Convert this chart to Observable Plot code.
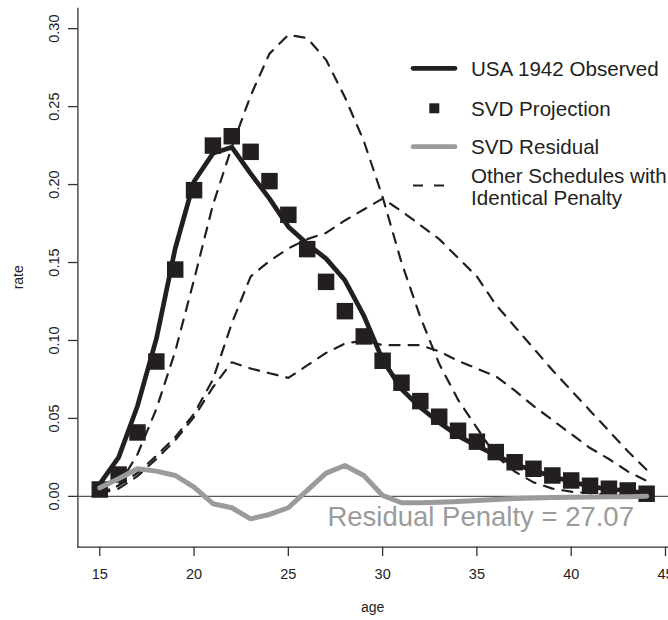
<!DOCTYPE html>
<html><head><meta charset="utf-8">
<script src="https://cdn.jsdelivr.net/npm/d3@7"></script>
<script src="https://cdn.jsdelivr.net/npm/@observablehq/plot@0.6"></script>
<style>
body{margin:0;background:#fff;}
#chart svg{display:block;}
</style>
</head><body><div id="chart"></div>
<script>
// ---- data ----
const ages = [15,16,17,18,19,20,21,22,23,24,25,26,27,28,29,30,31,32,33,34,35,36,37,38,39,40,41,42,43,44];
const observed = [0.008,0.025,0.058,0.101,0.159,0.202,0.220,0.224,0.207,0.191,0.173,0.162,0.1525,0.1386,0.116,0.0876,0.0688,0.057,0.0474,0.0388,0.0324,0.0264,0.0205,0.0167,0.0126,0.0096,0.0064,0.0046,0.0036,0.0018];
const projection = [0.0044,0.014,0.041,0.0865,0.1455,0.1964,0.225,0.231,0.221,0.2022,0.1806,0.1586,0.1376,0.1188,0.1026,0.087,0.0729,0.0611,0.0511,0.0421,0.0351,0.0284,0.0219,0.0177,0.0134,0.0102,0.0068,0.0049,0.0038,0.0017];
const residual = [0.0055,0.0113,0.0177,0.0162,0.0134,0.0059,-0.0047,-0.0073,-0.0144,-0.0116,-0.0073,0.0038,0.0149,0.0198,0.0134,0.0006,-0.0041,-0.0041,-0.0037,-0.0033,-0.0027,-0.002,-0.0014,-0.001,-0.0008,-0.0006,-0.0004,-0.0003,-0.0002,0.0001];
const otherA = [0.001,0.007,0.027,0.056,0.093,0.139,0.187,0.224,0.257,0.284,0.296,0.294,0.280,0.256,0.228,0.192,0.150,0.115,0.085,0.062,0.044,0.026,0.016,0.009,0.005,0.003,0.002,0.001,0.001,0.001];
const otherB = [0.002,0.007,0.015,0.026,0.038,0.053,0.075,0.111,0.141,0.151,0.159,0.165,0.169,0.177,0.184,0.191,0.183,0.174,0.165,0.153,0.141,0.123,0.109,0.095,0.081,0.068,0.055,0.042,0.029,0.017];
const otherC = [0.002,0.005,0.013,0.024,0.036,0.051,0.070,0.086,0.082,0.079,0.076,0.084,0.092,0.098,0.100,0.097,0.097,0.097,0.093,0.087,0.082,0.077,0.068,0.058,0.049,0.040,0.031,0.024,0.016,0.010];
const xTicks = [15,20,25,30,35,40,45];
const yTicks = [0.00,0.05,0.10,0.15,0.20,0.25,0.30];
const xDomain = [13.84, 45.16];
const yDomain = [-0.0326, 0.313];
const legendLabels = ["USA 1942 Observed","SVD Projection","SVD Residual","Other Schedules with","Identical Penalty"];
const penaltyLabel = "Residual Penalty = 27.07";
const penaltyPos = {age: 35.2, rate: -0.0132};
const xLabel = "age", yLabel = "rate";

// ---- tables ----
const rows = ages.map((a,i)=>({age:a, observed:observed[i], projection:projection[i], residual:residual[i]}));
const others = [];
[otherA, otherB, otherC].forEach((s,k)=>s.forEach((v,i)=>others.push({age:ages[i], rate:v, schedule:k})));

const FONT = "'Liberation Sans', Arial, Helvetica, sans-serif";
const INK = "#231f20";
const GRAY = "#9b9b9b";

const svg = Plot.plot({
  width: 668, height: 620,
  marginLeft: 77.4, marginRight: 0, marginTop: 7.9, marginBottom: 73.3,
  style: {fontFamily: FONT, background: "#fff", color: "#222"},
  x: {domain: xDomain},
  y: {domain: yDomain},
  marks: [
    Plot.frame({anchor: "left", stroke: "#333", strokeWidth: 1.3}),
    Plot.frame({anchor: "bottom", stroke: "#333", strokeWidth: 1.3}),
    Plot.ruleY([0], {stroke: "#555", strokeWidth: 1.1}),
    Plot.axisX(xTicks, {tickSize: 9.3, tickPadding: 12.5, fontSize: 14.5, label: null, stroke: "#333", strokeWidth: 1.3}),
    Plot.axisY(yTicks, {tickSize: 9.4, tickPadding: 9.7, tickRotate: -90, fontSize: 14.5, label: null, tickFormat: d3.format(".2f"), stroke: "#333", strokeWidth: 1.3}),
    Plot.line(others, {x: "age", y: "rate", z: "schedule", stroke: INK, strokeWidth: 2.2, strokeDasharray: "10,9"}),
    Plot.line(rows, {x: "age", y: "observed", stroke: INK, strokeWidth: 4.7, strokeLinejoin: "round", strokeLinecap: "round"}),
    Plot.dot(rows, {x: "age", y: "projection", symbol: "square", r: 9.3, fill: INK, stroke: null}),
    Plot.line(rows, {x: "age", y: "residual", stroke: GRAY, strokeWidth: 5, strokeLinejoin: "round", strokeLinecap: "round"}),
    Plot.text([penaltyPos], {x: "age", y: "rate", text: () => penaltyLabel, fontSize: 27.5, fill: GRAY, textAnchor: "middle", lineAnchor: "middle"})
  ]
});

const s = d3.select(svg);
// axis titles
s.append("text").attr("x", 372.7).attr("y", 612).attr("text-anchor","middle")
  .attr("font-size", 14).attr("font-family", FONT).attr("fill", "#222").text(xLabel);
s.append("text").attr("transform","translate(23.3,277.3) rotate(-90)").attr("text-anchor","middle")
  .attr("font-size", 14).attr("font-family", FONT).attr("fill", "#222").text(yLabel);

// legend
const lg = s.append("g").attr("font-family", FONT).attr("font-size", 20.6).attr("fill", INK).attr("text-anchor", "start");
lg.append("line").attr("x1",413).attr("x2",455).attr("y1",68.3).attr("y2",68.3).attr("stroke",INK).attr("stroke-width",4.7).attr("stroke-linecap","round");
lg.append("rect").attr("x",429.3).attr("y",103.3).attr("width",10).attr("height",10).attr("fill",INK);
lg.append("line").attr("x1",413).attr("x2",455).attr("y1",146.7).attr("y2",146.7).attr("stroke",GRAY).attr("stroke-width",4.7).attr("stroke-linecap","round");
lg.append("line").attr("x1",413).attr("x2",455).attr("y1",185.5).attr("y2",185.5).attr("stroke",INK).attr("stroke-width",2.2).attr("stroke-dasharray","10,11");
const baselines = [76, 116, 154.3, 182.7, 205];
legendLabels.forEach((t,i)=>lg.append("text").attr("x",471).attr("y",baselines[i]).attr("text-anchor","start").text(t));

document.getElementById("chart").appendChild(svg);
</script>
</body></html>
